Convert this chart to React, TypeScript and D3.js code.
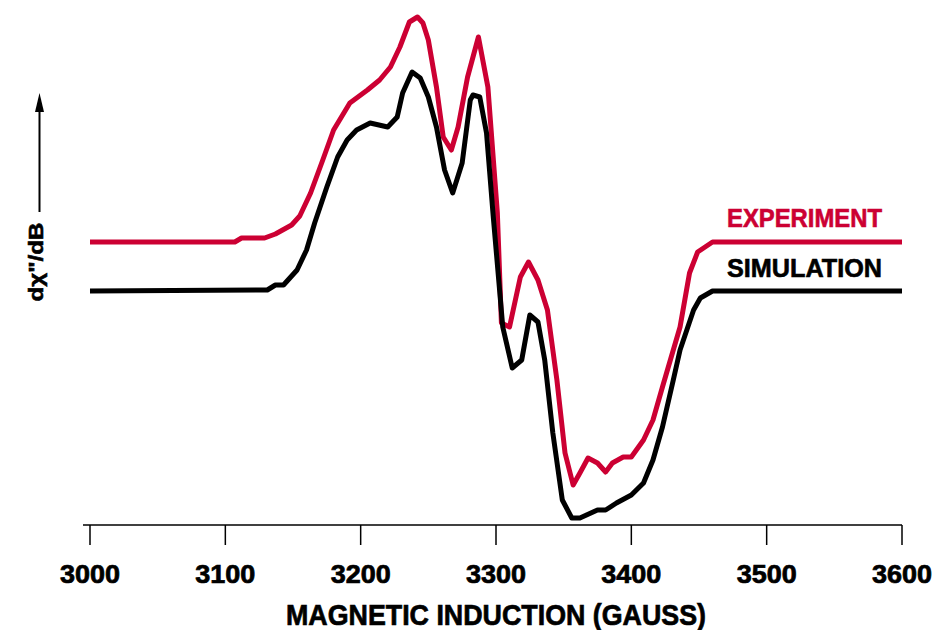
import React, { useRef, useEffect } from "react";
import * as d3 from "d3";

// field values (gauss) and signal (arbitrary units)
const expField = [3000, 3107, 3112, 3129, 3137, 3149, 3155, 3163, 3172, 3180, 3192, 3205, 3214, 3222, 3229, 3236, 3242, 3246, 3250, 3256, 3261, 3267, 3272, 3279, 3287, 3294, 3301, 3304, 3310, 3318, 3324, 3331, 3338, 3345, 3351, 3357, 3362, 3368, 3375, 3381, 3386, 3394, 3400, 3409, 3416, 3423, 3431, 3436, 3443, 3449, 3460, 3600];
const expSignal = [49, 49, 53, 53, 57, 66, 75, 98, 131, 161, 188, 201, 211, 224, 244, 269, 274, 268, 251, 204, 154, 141, 164, 214, 254, 204, 78, -32, -36, 14, 29, 11, -19, -89, -162, -194, -182, -167, -172, -181, -172, -166, -166, -149, -129, -96, -59, -36, 18, 39, 49, 49];

const simField = [3000, 3131, 3137, 3143, 3153, 3160, 3166, 3175, 3183, 3190, 3197, 3207, 3220, 3227, 3231, 3238, 3244, 3250, 3256, 3262, 3268, 3275, 3281, 3283, 3288, 3293, 3298, 3305, 3312, 3319, 3325, 3331, 3336, 3342, 3349, 3356, 3362, 3375, 3381, 3389, 3400, 3409, 3416, 3423, 3431, 3436, 3446, 3451, 3460, 3600];
const simSignal = [0, 1, 6, 6, 21, 41, 68, 104, 134, 151, 161, 168, 164, 174, 198, 219, 213, 194, 164, 121, 98, 128, 191, 196, 194, 158, 74, -36, -77, -69, -24, -31, -69, -142, -209, -227, -227, -219, -219, -212, -204, -192, -169, -136, -89, -59, -19, -7, 0, 0];

const xTicks = [3000, 3100, 3200, 3300, 3400, 3500, 3600];

const seriesNames = ["EXPERIMENT", "SIMULATION"];
const seriesColors = ["#cc0033", "#000000"];

const FONT = "'Liberation Sans', Arial, sans-serif";

export default function App() {
  const ref = useRef<SVGSVGElement>(null);

  useEffect(() => {
    const svg = d3.select(ref.current);
    svg.selectAll("*").remove();

    const x = d3.scaleLinear().domain([3000, 3600]).range([90, 902]);
    const y = d3.scaleLinear().domain([-230, 280]).range([521, 11]);

    const axisY = 525;

    // x axis
    svg.append("line")
      .attr("x1", 83).attr("x2", x(3600))
      .attr("y1", axisY).attr("y2", axisY)
      .attr("stroke", "#000").attr("stroke-width", 1.5);

    svg.selectAll("line.tick")
      .data(xTicks)
      .enter()
      .append("line")
      .attr("class", "tick")
      .attr("x1", (d) => x(d)).attr("x2", (d) => x(d))
      .attr("y1", axisY).attr("y2", axisY + 20)
      .attr("stroke", "#000").attr("stroke-width", 1.5);

    svg.selectAll("text.tlabel")
      .data(xTicks)
      .enter()
      .append("text")
      .attr("class", "tlabel")
      .attr("x", (d) => x(d))
      .attr("y", 583)
      .attr("text-anchor", "middle")
      .attr("font-family", FONT)
      .attr("font-weight", "bold")
      .attr("font-size", 25)
      .attr("stroke", "#000")
      .attr("stroke-width", 0.7)
      .attr("textLength", 60)
      .attr("lengthAdjust", "spacingAndGlyphs")
      .text((d) => d);

    svg.append("text")
      .attr("x", 496).attr("y", 625)
      .attr("text-anchor", "middle")
      .attr("font-family", FONT)
      .attr("font-weight", "bold")
      .attr("font-size", 30)
      .attr("stroke", "#000")
      .attr("stroke-width", 0.7)
      .attr("textLength", 420)
      .attr("lengthAdjust", "spacingAndGlyphs")
      .text("MAGNETIC INDUCTION (GAUSS)");

    // y label + arrow
    svg.append("text")
      .attr("transform", "translate(43, 262) rotate(-90)")
      .attr("text-anchor", "middle")
      .attr("font-family", FONT)
      .attr("font-weight", "bold")
      .attr("font-size", 21)
      .attr("stroke", "#000")
      .attr("stroke-width", 0.6)
      .attr("textLength", 79)
      .attr("lengthAdjust", "spacingAndGlyphs")
      .text('dχ"/dB');

    svg.append("line")
      .attr("x1", 39.5).attr("x2", 39.5)
      .attr("y1", 212).attr("y2", 108)
      .attr("stroke", "#000").attr("stroke-width", 2);
    svg.append("path")
      .attr("d", "M39.5,93 L35,112 L44,112 Z")
      .attr("fill", "#000");

    // curves
    const line = d3.line<[number, number]>()
      .x((d) => x(d[0]))
      .y((d) => y(d[1]));

    const series = [
      expField.map((f, i) => [f, expSignal[i]] as [number, number]),
      simField.map((f, i) => [f, simSignal[i]] as [number, number]),
    ];

    svg.selectAll("path.curve")
      .data(series)
      .enter()
      .append("path")
      .attr("class", "curve")
      .attr("d", (d) => line(d))
      .attr("fill", "none")
      .attr("stroke", (d, i) => seriesColors[i])
      .attr("stroke-width", 5)
      .attr("stroke-linejoin", "round");

    // legend labels
    svg.selectAll("text.legend")
      .data(seriesNames)
      .enter()
      .append("text")
      .attr("class", "legend")
      .attr("x", 727)
      .attr("y", (d, i) => 227 + i * 50)
      .attr("fill", (d, i) => seriesColors[i])
      .attr("stroke", (d, i) => seriesColors[i])
      .attr("stroke-width", 0.6)
      .attr("font-family", FONT)
      .attr("font-weight", "bold")
      .attr("font-size", 25)
      .attr("textLength", 155)
      .attr("lengthAdjust", "spacingAndGlyphs")
      .text((d) => d);
  }, []);

  return (
    <svg
      ref={ref}
      width={937}
      height={630}
      style={{ position: "absolute", left: 0, top: 0, background: "#fff" }}
    ></svg>
  );
}
